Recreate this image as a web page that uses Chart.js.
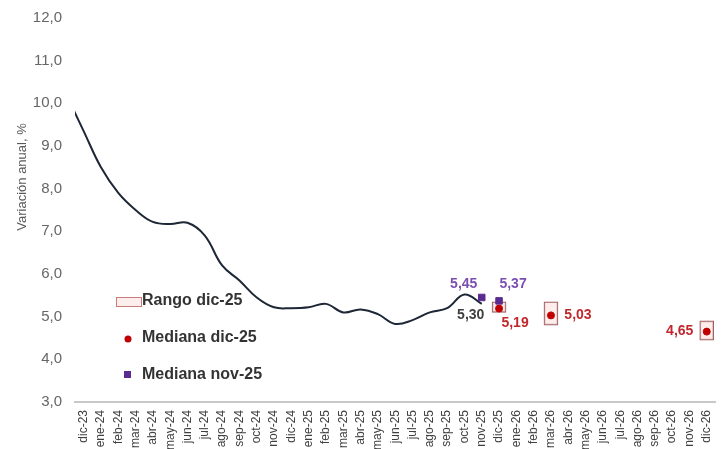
<!DOCTYPE html>
<html>
<head>
<meta charset="utf-8">
<script src="https://cdn.jsdelivr.net/npm/chart.js@4.4.1/dist/chart.umd.min.js"></script>
<style>
  html, body { margin: 0; padding: 0; background: #fff; }
  #wrap { width: 721px; height: 449px; }
</style>
</head>
<body>
<div id="wrap"><canvas id="myChart" width="721" height="449"></canvas></div>
<script>
// nov-23 is only there so the curve enters from the left edge (hidden by x.min)
var meses = ['nov-23','dic-23',
  'ene-24','feb-24','mar-24','abr-24','may-24','jun-24','jul-24','ago-24','sep-24','oct-24','nov-24','dic-24',
  'ene-25','feb-25','mar-25','abr-25','may-25','jun-25','jul-25','ago-25','sep-25','oct-25','nov-25','dic-25',
  'ene-26','feb-26','mar-26','abr-26','may-26','jun-26','jul-26','ago-26','sep-26','oct-26','nov-26','dic-26'];

// observed annual variation, nov-23 .. nov-25
var observado = [10.2, 9.35, 8.5, 7.9, 7.5, 7.22, 7.17, 7.2, 6.9, 6.2, 5.85, 5.45, 5.22,
  5.2, 5.22, 5.3, 5.1, 5.17, 5.06, 4.83, 4.92, 5.1, 5.2, 5.52, 5.30];

// survey of dic-25
var mesesPronostico = ['dic-25','mar-26','dic-26'];
var medianaDic25 = [5.19, 5.03, 4.65];
var rangoMin = [5.10, 4.80, 4.45];
var rangoMax = [5.35, 5.35, 4.90];

// survey of nov-25
var mesesNov25 = ['nov-25','dic-25'];
var medianaNov25 = [5.45, 5.37];

var yTicks = [3, 4, 5, 6, 7, 8, 9, 10, 11, 12];

function fmt(v){
    return v.toFixed(2).replace('.', ',');
}

var rangoData = [];
for (i in mesesPronostico){
    rangoData.push({x: mesesPronostico[i], y: [rangoMin[i], rangoMax[i]]});
}
var dicData = [];
for (i in mesesPronostico){
    dicData.push({x: mesesPronostico[i], y: medianaDic25[i]});
}
var novData = [];
for (i in mesesNov25){
    novData.push({x: mesesNov25[i], y: medianaNov25[i]});
}

// label offsets (from the point), per dataset
var etiquetas = {
    obs:  {color: '#404040', pos: [[-11, 11]]},
    nov:  {color: '#7a4fb0', pos: [[-18, -13], [14, -17]]},
    dic:  {color: '#c0282d', pos: [[16, 15], [27, 0], [-27, 0]]}
};

const labelPlugin = {
    id: 'labels',
    afterDatasetsDraw(chart){
        const ctx = chart.ctx;
        ctx.save();
        ctx.font = 'bold 14px "Liberation Sans", Arial, sans-serif';
        ctx.textAlign = 'center';
        ctx.textBaseline = 'middle';
        chart.data.datasets.forEach(function(ds, di){
            var cfg = etiquetas[ds.key];
            if (!cfg) return;
            var meta = chart.getDatasetMeta(di);
            var n = 0;
            meta.data.forEach(function(pt, j){
                var raw = ds.data[j];
                var v = (raw && typeof raw === 'object') ? raw.y : raw;
                if (ds.key === 'obs' && j !== ds.data.length - 1) return;
                var off = cfg.pos[n++];
                if (!off) return;
                ctx.fillStyle = cfg.color;
                ctx.fillText(fmt(v), pt.x + off[0], pt.y + off[1]);
            });
        });
        ctx.restore();
    }
};

const legendPlugin = {
    id: 'insideLegend',
    afterDraw(chart){
        const ctx = chart.ctx;
        ctx.save();
        ctx.font = 'bold 16px "Liberation Sans", Arial, sans-serif';
        ctx.textBaseline = 'middle';
        // Rango
        ctx.fillStyle = '#fdeeee';
        ctx.fillRect(116, 297, 25, 9);
        ctx.strokeStyle = '#c97a7a';
        ctx.lineWidth = 1;
        ctx.strokeRect(116.5, 297.5, 25, 9);
        ctx.fillStyle = '#333333';
        ctx.fillText(chart.data.datasets[1].label, 142, 301);
        // Mediana dic-25
        ctx.fillStyle = '#c00000';
        ctx.beginPath();
        ctx.arc(128, 339, 3.5, 0, Math.PI * 2);
        ctx.fill();
        ctx.fillStyle = '#333333';
        ctx.fillText(chart.data.datasets[2].label, 142, 338);
        // Mediana nov-25
        ctx.fillStyle = '#5b2c8f';
        ctx.fillRect(124, 371, 7, 7);
        ctx.fillStyle = '#333333';
        ctx.fillText(chart.data.datasets[3].label, 142, 375);
        // y title
        ctx.translate(22, 177);
        ctx.rotate(-Math.PI / 2);
        ctx.textAlign = 'center';
        ctx.font = '13px "Liberation Sans", Arial, sans-serif';
        ctx.fillStyle = '#595959';
        ctx.fillText('Variación anual, %', 0, 0);
        ctx.restore();
    }
};

const ctx1 = document.getElementById('myChart');
new Chart(ctx1, {
    data: {
        labels: meses,
        datasets: [{
            key: 'obs',
            type: 'line',
            label: 'Observado',
            data: observado,
            borderColor: '#1e2736',
            borderWidth: 2,
            pointRadius: 0,
            tension: 0.4,
            order: 3
        }, {
            type: 'bar',
            label: 'Rango dic-25',
            data: rangoData,
            backgroundColor: 'rgba(252,225,225,0.6)',
            borderColor: '#9a5a5a',
            borderWidth: 1,
            borderSkipped: false,
            barThickness: 14,
            order: 4
        }, {
            key: 'dic',
            type: 'line',
            label: 'Mediana dic-25',
            data: dicData,
            showLine: false,
            pointStyle: 'circle',
            pointRadius: 3.5,
            backgroundColor: '#c00000',
            borderColor: '#c00000',
            order: 1
        }, {
            key: 'nov',
            type: 'line',
            label: 'Mediana nov-25',
            data: novData,
            showLine: false,
            pointStyle: 'rect',
            pointRadius: 4.6,
            backgroundColor: '#5b2c8f',
            borderColor: '#5b2c8f',
            order: 2
        }]
    },
    options: {
        responsive: false,
        animation: false,
        layout: { padding: { top: 18, right: -4, left: 0, bottom: 0 } },
        plugins: {
            legend: { display: false },
            tooltip: { enabled: false }
        },
        scales: {
            x: {
                type: 'category',
                min: 'dic-23',
                offset: true,
                grid: { display: false },
                border: { display: true, color: '#c8c8c8', width: 2 },
                ticks: {
                    autoSkip: false,
                    minRotation: 90,
                    maxRotation: 90,
                    padding: 0,
                    color: '#404040',
                    font: { family: '"Liberation Sans", Arial, sans-serif', size: 12 }
                },
                afterFit: function(scale){
                    scale.height = 47;
                    scale.paddingLeft = 0;
                    scale.paddingRight = 0;
                }
            },
            y: {
                min: 3,
                max: 12,
                grid: { display: false },
                border: { display: false },
                afterBuildTicks: function(scale){
                    scale.ticks = yTicks.map(function(v){ return {value: v}; });
                },
                ticks: {
                    padding: 5,
                    color: '#666666',
                    font: { family: '"Liberation Sans", Arial, sans-serif', size: 15 },
                    callback: function(v){ return v.toFixed(1).replace('.', ','); }
                },
                afterFit: function(scale){ scale.width = 75; }
            }
        }
    },
    plugins: [labelPlugin, legendPlugin]
});
</script>
</body>
</html>
